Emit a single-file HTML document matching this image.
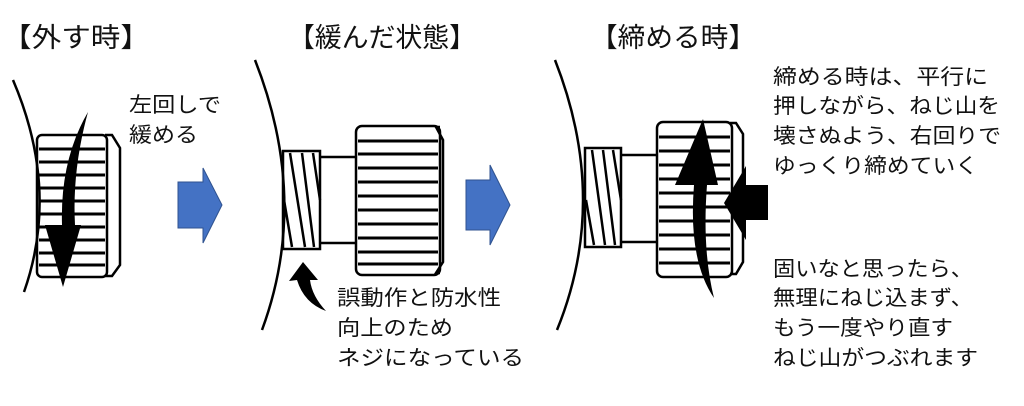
<!DOCTYPE html>
<html><head><meta charset="utf-8"><style>
html,body{margin:0;padding:0;background:#fff;}
svg{display:block;}
text{font-family:"Liberation Sans","Noto Sans CJK JP",sans-serif;fill:#111;}
</style></head><body>
<svg width="1024" height="406" viewBox="0 0 1024 406" xmlns="http://www.w3.org/2000/svg">
<g fill="none" stroke="#000" stroke-width="2.5">
<!-- panel 1 -->
<path d="M13,80 Q60,190 24,292"/>
<path d="M105,135 L112,135 L120,148 L120,265 L112,276 L105,276" />
<rect x="37" y="135" width="70" height="142" rx="5"/>
<g stroke-width="3">
<path d="M39,149H105M39,162H105M39,175H105M39,188H105M39,201H105M39,214H105M39,227H105M39,240H105M39,253H105M39,265H105"/>
</g>
<!-- panel 2 -->
<path d="M255,60 Q310,200 262,330"/>
<rect x="283" y="151" width="37" height="98"/>
<path d="M320,157H357M320,243H357"/>
<path d="M290,153 L305,247 M302,153 L314,247 M313,153 L320,200 M284,200 L292,247"/>
<path d="M440,127 L436,127 L443,140 L443,262 L436,273 L440,273"/>
<rect x="356" y="126" width="84" height="149" rx="6"/>
<path d="M358,141H438M358,154H438M358,168H438M358,182H438M358,196H438M358,210H438M358,224H438M358,238H438M358,252H438M358,264H438" stroke-width="3"/>
<!-- panel 3 -->
<path d="M555,60 Q610,200 557,330"/>
<rect x="585" y="148" width="36" height="99"/>
<path d="M621,155H657M621,242H657"/>
<path d="M592,150 L605,245 M603,150 L615,245 M613,150 L621,200 M586,200 L594,245"/>
<path d="M730,123 L736,123 L743,134 L743,262 L736,274 L730,274"/>
<rect x="657" y="122" width="75" height="155" rx="6"/>
<path d="M659,137H730M659,151H730M659,165H730M659,179H730M659,193H730M659,207H730M659,221H730M659,235H730M659,249H730M659,263H730" stroke-width="3"/>
</g>
<!-- black arrows -->
<path d="M88,112 Q60,160 62,225 L45,225 L63,287 L81,225 L75,225 Q72,170 88,112Z" fill="#000"/>
<path d="M714,298 Q688,260 694,185 L675,185 L703,119 L718,185 L707,185 Q702,250 714,298Z" fill="#000"/>
<path d="M724,203 L746,166 L746,185 L768,185 L768,220 L746,220 L746,240Z" fill="#000"/>
<path d="M303,262 L289,281 L297,280 Q304,303 326,311 Q312,296 310,280 L318,280Z" fill="#000"/>
<!-- blue arrows -->
<path d="M178,182 L203,182 L203,168 L222,205 L203,243 L203,228 L178,228Z" fill="#4472c4" stroke="#2f528f" stroke-width="1"/>
<path d="M466,180 L490,180 L490,165 L510,205 L490,245 L490,230 L466,230Z" fill="#4472c4" stroke="#2f528f" stroke-width="1"/>
<!-- text -->
<g font-size="27">
<text x="2" y="47" textLength="148" lengthAdjust="spacingAndGlyphs">【外す時】</text>
<text x="288" y="47" textLength="188" lengthAdjust="spacingAndGlyphs">【緩んだ状態】</text>
<text x="590" y="47" textLength="166" lengthAdjust="spacingAndGlyphs">【締める時】</text>
</g>
<g font-size="21">
<text x="129" y="112" textLength="92" lengthAdjust="spacingAndGlyphs">左回しで</text>
<text x="129" y="142" textLength="69" lengthAdjust="spacingAndGlyphs">緩める</text>
<text x="337" y="305" textLength="164" lengthAdjust="spacingAndGlyphs">誤動作と防水性</text>
<text x="337" y="335" textLength="116" lengthAdjust="spacingAndGlyphs">向上のため</text>
<text x="337" y="365" textLength="187" lengthAdjust="spacingAndGlyphs">ネジになっている</text>
<text x="773" y="84" textLength="215" lengthAdjust="spacingAndGlyphs">締める時は、平行に</text>
<text x="773" y="113" textLength="227" lengthAdjust="spacingAndGlyphs">押しながら、ねじ山を</text>
<text x="773" y="143" textLength="228" lengthAdjust="spacingAndGlyphs">壊さぬよう、右回りで</text>
<text x="773" y="173" textLength="205" lengthAdjust="spacingAndGlyphs">ゆっくり締めていく</text>
<text x="773" y="276" textLength="200" lengthAdjust="spacingAndGlyphs">固いなと思ったら、</text>
<text x="773" y="305" textLength="200" lengthAdjust="spacingAndGlyphs">無理にねじ込まず、</text>
<text x="773" y="335" textLength="180" lengthAdjust="spacingAndGlyphs">もう一度やり直す</text>
<text x="773" y="365" textLength="205" lengthAdjust="spacingAndGlyphs">ねじ山がつぶれます</text>
</g>
</svg>
</body></html>
